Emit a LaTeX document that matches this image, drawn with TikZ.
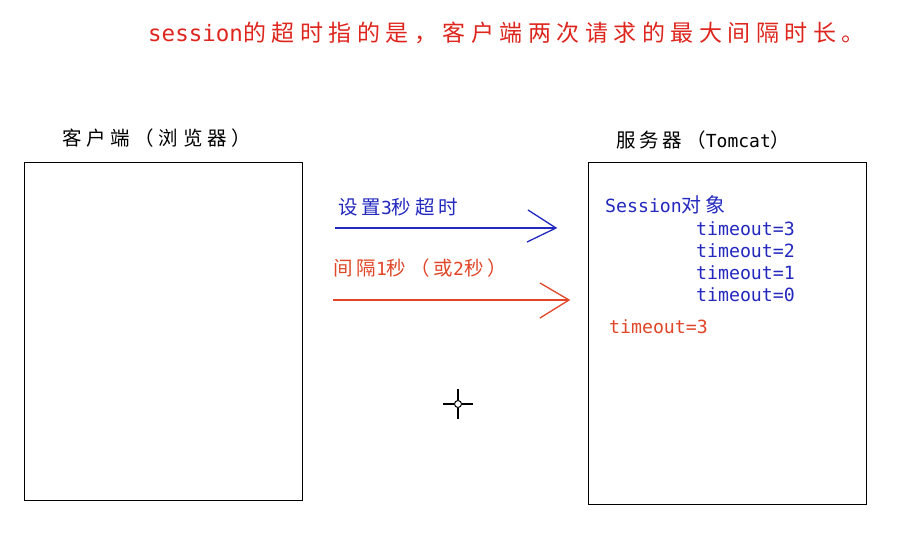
\documentclass[tikz,border=0pt]{standalone}
\usepackage{fontspec}
\newfontfamily\cjk[LetterSpace=20]{Noto Sans CJK SC}
\newfontfamily\cjkl[LetterSpace=24]{Noto Sans CJK SC}
\newfontfamily\cjkt[LetterSpace=24]{Noto Sans CJK SC}
\newfontfamily\monof{DejaVu Sans Mono}
\definecolor{tred}{RGB}{222,38,30}
\definecolor{ared}{RGB}{226,70,40}
\definecolor{tblue}{RGB}{35,40,190}
\newcommand{\cj}[1]{{\cjk\fontsize{19.5}{22}\selectfont #1}}
\newcommand{\cjL}[1]{{\cjkl\fontsize{19.5}{22}\selectfont #1}}
\newcommand{\mn}[1]{{\monof\fontsize{18}{22}\selectfont #1}}
\begin{document}
\begin{tikzpicture}[x=1pt,y=-1pt,
  box/.style={draw=black,line width=1.1pt},
  lbl/.style={anchor=west,inner sep=0pt,text=black},
  arr/.style={line width=1.3pt},
  mono/.style={anchor=west,inner sep=0pt,font=\monof\fontsize{18.2}{22}\selectfont}]
\useasboundingbox[fill=white] (0,0) rectangle (903,542);
% title
\node[anchor=west,inner sep=0pt,text=tred] (title) at (148,33)
  {{\monof\fontsize{22.5}{26}\selectfont session}{\cjkt\fontsize{23}{26}\selectfont 的超时指的是，客户端两次请求的最大间隔时长。}};
% boxes
\node[box,minimum width=278pt,minimum height=338pt,anchor=north west,inner sep=0pt] (client) at (24,162) {};
\node[box,minimum width=278pt,minimum height=342pt,anchor=north west,inner sep=0pt] (server) at (588,162) {};
\node[lbl] (clbl) at (62,138) {\cjL{客户端（浏览器）}};
\node[lbl] (slbl) at (616,140) {\cj{服务器（}\mn{Tomcat}\cj{）}};
% blue arrow
\coordinate (b0) at (335,228);
\coordinate (b1) at (556,228);
\coordinate (bu) at (528,210);
\coordinate (bd) at (527,242);
\draw[tblue,arr] (b0) -- (b1);
\draw[tblue,arr] (bu) -- (b1) -- (bd);
\node[lbl,text=tblue] (blab) at (338,207) {\cj{设置}\mn{3}\cj{秒超时}};
% red arrow
\coordinate (r0) at (333,300);
\coordinate (r1) at (569,300);
\coordinate (ru) at (540,283);
\coordinate (rd) at (540,318);
\draw[ared,arr] (r0) -- (r1);
\draw[ared,arr] (ru) -- (r1) -- (rd);
\node[lbl,text=ared] (rlab) at (333,268) {\cj{间隔}\mn{1}\cj{秒（或}\mn{2}\cj{秒）}};
% session object
\node[mono,text=tblue] (sess) at (605,205) {Session{\cjk\fontsize{20}{22}\selectfont 对象}};
\node[mono,text=tblue] (t3) at (696,229) {timeout=3};
\node[mono,text=tblue] (t2) at (696,251) {timeout=2};
\node[mono,text=tblue] (t1) at (696,273) {timeout=1};
\node[mono,text=tblue] (t0) at (696,295) {timeout=0};
\node[mono,text=ared] (tr) at (609,327) {timeout=3};
% cursor
\coordinate (cc) at (458,404);
\draw[black,line width=1.2pt] (443,404) -- (454,404) (462,404) -- (473,404)
  (458,389) -- (458,400) (458,408) -- (458,419);
\draw[black,line width=1pt] (cc) circle (3.5);
\end{tikzpicture}
\end{document}
